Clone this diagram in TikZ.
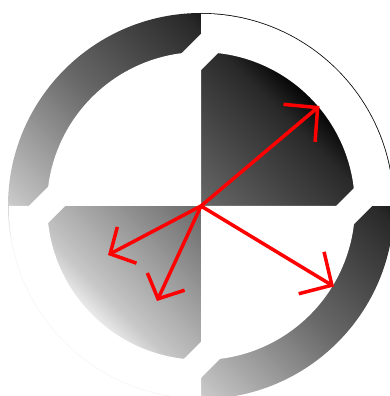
\documentclass[tikz,border=0pt]{standalone}
\usetikzlibrary{arrows.meta}
\pgfdeclarehorizontalshading{diagshade}{100bp}{color(0bp)=(white); color(29bp)=(black!4); color(33bp)=(black!22); color(50bp)=(black!59); color(66bp)=(black!84); color(70bp)=(black!98); color(100bp)=(black)}
\tikzset{
  redarrow/.style={draw=red, line width=3.5pt},
  longhead/.style={-{Straight Barb[length=24pt,width=49pt]}},
  shorthead/.style={-{Straight Barb[length=19pt,width=41pt]}},
  gapstrip/.style={draw=white, line width=25.5pt},
  blank/.style={fill=white, draw=none},
}
\begin{document}
\begin{tikzpicture}[x=1pt,y=1pt]
\useasboundingbox (0,0) rectangle (390,396);
\coordinate (C) at (201,190);
% shaded disc
\shade[shading=diagshade, shading angle=45] (C) circle (193);
% white inner sectors (top-left, bottom-right)
\fill[blank] (C) -- ([shift={(90:154)}]C) arc[start angle=90, end angle=180, radius=154] -- cycle;
\fill[blank] (C) -- ([shift={(270:154)}]C) arc[start angle=270, end angle=360, radius=154] -- cycle;
% white outer rings (top-right, bottom-left)
\fill[blank] ([shift={(0:153.8)}]C) arc[start angle=0, end angle=90, radius=153.8] -- ([shift={(90:192.2)}]C) arc[start angle=90, end angle=0, radius=192.2] -- cycle;
\fill[blank] ([shift={(180:153.8)}]C) arc[start angle=180, end angle=270, radius=153.8] -- ([shift={(270:192.2)}]C) arc[start angle=270, end angle=180, radius=192.2] -- cycle;
% diagonal white strips
\coordinate (S1a) at (214,357);
\coordinate (S1b) at (34,177);
\coordinate (S2a) at (368,204);
\coordinate (S2b) at (187,22);
\draw[gapstrip] (S1a) -- (S1b);
\draw[gapstrip] (S2a) -- (S2b);
% red arrows
\coordinate (T1) at (319.5,290);
\coordinate (T2) at (334,109.5);
\coordinate (T3) at (108,141);
\coordinate (T4) at (157,95);
\draw[redarrow, longhead] (C) -- (T1);
\draw[redarrow, longhead] (C) -- (T2);
\draw[redarrow, shorthead] (C) -- (T3);
\draw[redarrow, shorthead] (C) -- (T4);
\end{tikzpicture}
\end{document}
